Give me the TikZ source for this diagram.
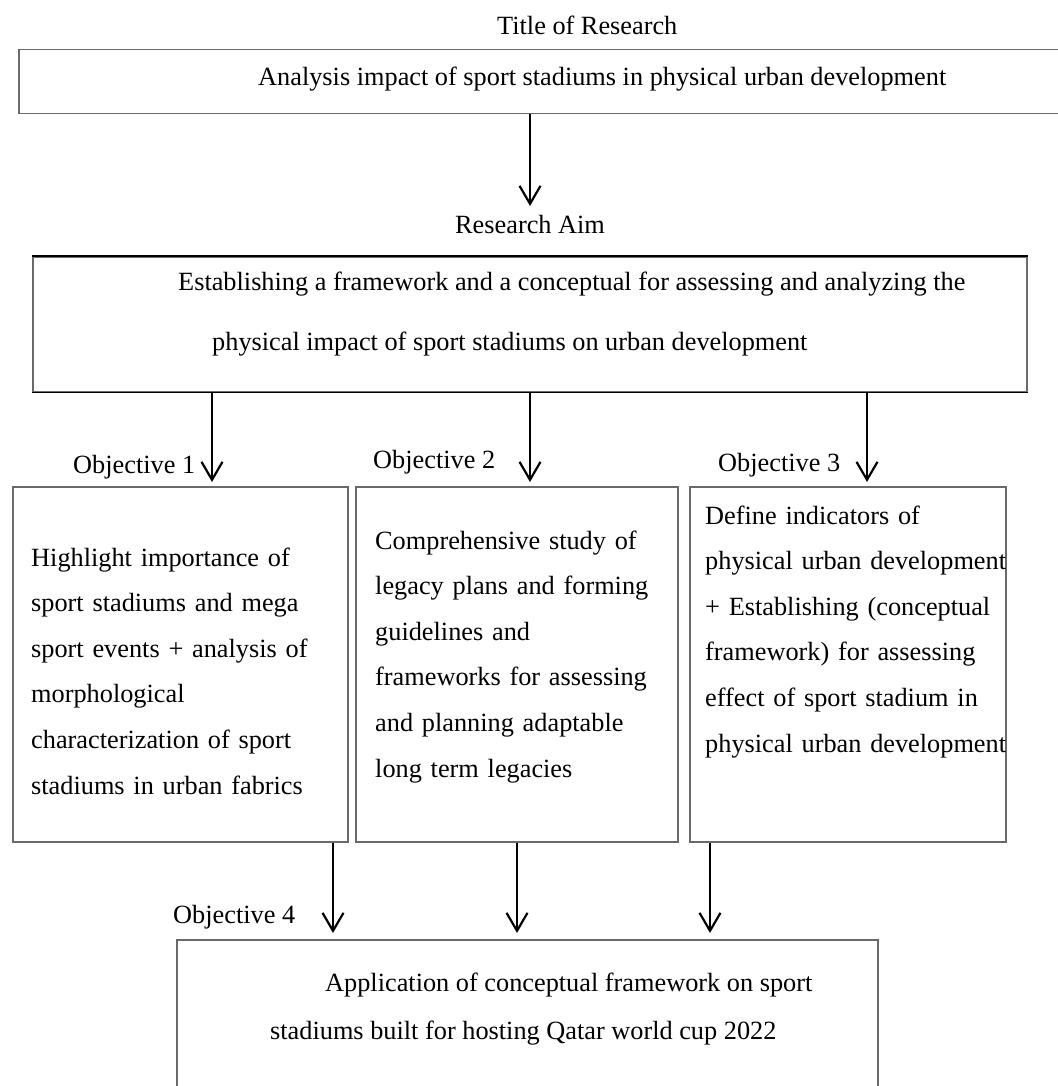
\documentclass[tikz,border=0pt]{standalone}
\usepackage{fontspec}
\setmainfont{Liberation Serif}
\usetikzlibrary{arrows.meta}
\definecolor{boxgray}{HTML}{6A6A6A}
\newcommand{\mytextfont}{\fontsize{26.3}{45.6}\selectfont\spaceskip=\fontdimen2\font\relax}
\begin{document}
\begin{tikzpicture}[x=1pt,y=-1pt,
  boxline/.style={draw=boxgray, line width=1.5pt, inner sep=0pt, anchor=north west},
  edgeline/.style={draw=black, line width=1.3pt},
  txt/.style={font=\mytextfont, inner sep=0pt, anchor=base west},
  para/.style={txt, text width=340pt, align=left},
  arr/.style={line width=2.2pt, -{Straight Barb[length=18pt,width=21pt]}}]
\useasboundingbox[fill=white] (0,0) rectangle (1057,1086);

% Title
\node[txt] (titlelbl) at (497,35) {Title of Research};
\node[boxline, minimum width=1070pt, minimum height=64pt] (title) at (18,49) {};
\node[txt] (titletxt) at (258,86) {Analysis impact of sport stadiums in physical urban development};

% Aim
\coordinate (aimtip) at (530,206);
\draw[arr] (title.south -| aimtip) -- (aimtip);
\node[txt] (aimlbl) at (455,233) {Research Aim};
\node[boxline, minimum width=994pt, minimum height=135pt] (aim) at (32,256) {};
\draw[edgeline] (aim.north west) -- (aim.north east);
\draw[edgeline] (aim.south west) -- (aim.south east);
\node[txt] (aimtxt1) at (178,290) {Establishing a framework and a conceptual for assessing and analyzing the};
\node[txt] (aimtxt2) at (212,350) {physical impact of sport stadiums on urban development};

% Objectives 1-3
\node[boxline, minimum width=335pt, minimum height=355pt] (o1) at (12,486) {};
\node[boxline, minimum width=322pt, minimum height=355pt] (o2) at (355,486) {};
\node[boxline, minimum width=316pt, minimum height=355pt] (o3) at (689,486) {};

\coordinate (x1) at (212,0);
\coordinate (x2) at (530,0);
\coordinate (x3) at (867,0);
\draw[arr, shorten >=4pt] (aim.south -| x1) -- (o1.north -| x1);
\draw[arr, shorten >=4pt] (aim.south -| x2) -- (o2.north -| x2);
\draw[arr, shorten >=4pt] (aim.south -| x3) -- (o3.north -| x3);

\node[txt] (ol1) at (73,473) {Objective 1};
\node[txt] (ol2) at (373,468) {Objective 2};
\node[txt] (ol3) at (718,471) {Objective 3};

\node[para] (t1) at (31,566) {Highlight importance of\\ sport stadiums and mega\\ sport events + analysis of\\ morphological\\ characterization of sport\\ stadiums in urban fabrics};
\node[para] (t2) at (375,549) {Comprehensive study of\\ legacy plans and forming\\ guidelines and\\ frameworks for assessing\\ and planning adaptable\\ long term legacies};
\node[para] (t3) at (705,524) {Define indicators of\\ physical urban development\\ + Establishing (conceptual\\ framework) for assessing\\ effect of sport stadium in\\ physical urban development};

% Objective 4
\node[boxline, minimum width=701pt, minimum height=200pt] (o4) at (176,939) {};
\coordinate (y1) at (333,0);
\coordinate (y2) at (517,0);
\coordinate (y3) at (710,0);
\draw[arr, shorten >=6pt] (o1.south -| y1) -- (o4.north -| y1);
\draw[arr, shorten >=6pt] (o2.south -| y2) -- (o4.north -| y2);
\draw[arr, shorten >=6pt] (o3.south -| y3) -- (o4.north -| y3);
\node[txt] (ol4) at (173,923) {Objective 4};
\node[txt] (t4a) at (325,991) {Application of conceptual framework on sport};
\node[txt] (t4b) at (270,1039) {stadiums built for hosting Qatar world cup 2022};
\end{tikzpicture}
\end{document}
